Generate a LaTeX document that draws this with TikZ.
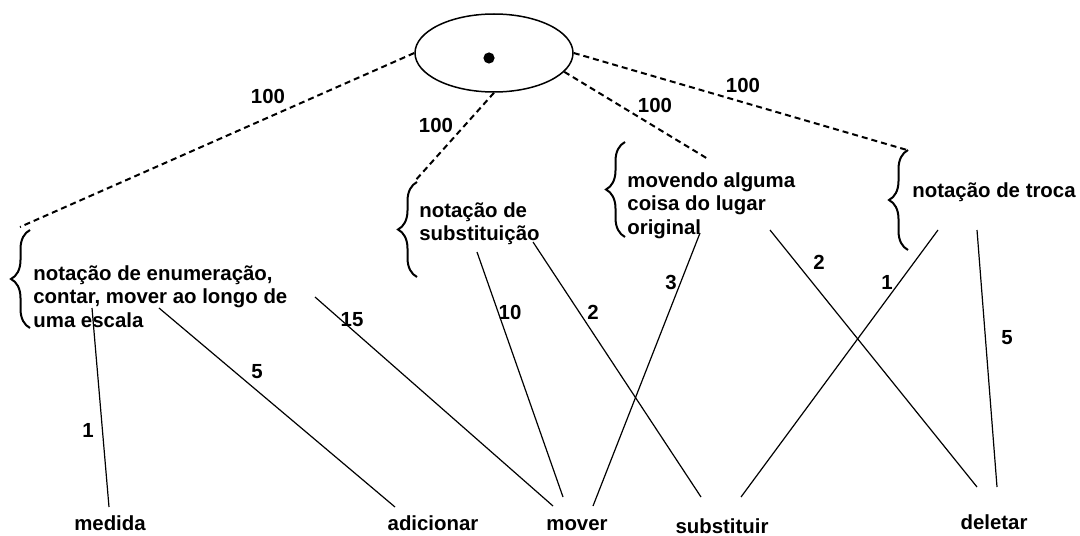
\documentclass[tikz,border=0pt]{standalone}
\usepackage{fontspec}
\setmainfont{Liberation Sans}
\usetikzlibrary{shapes.geometric,decorations.pathreplacing}
\begin{document}
\begin{tikzpicture}[x=0.5pt, y=-0.5pt,
	every node/.style = {inner sep=0pt, font=\fontsize{10.2}{11.75}\selectfont\bfseries},
	bloco/.style = {align=left, anchor=north west},
	rotulo/.style = {anchor=base},
	chave/.style = {decorate, decoration={brace, amplitude=9.5pt}, line width=1pt},
	tracejado/.style = {line width=1pt, dash pattern=on 3pt off 2pt},
	ligacao/.style = {line width=0.6pt}]
	\useasboundingbox (0,0) rectangle (1080,535);
	\node[draw, ellipse, line width=0.75pt, minimum width=79pt, minimum height=39pt] (raiz) at (494,53) {};
	\fill (489,58) circle (2.8pt);
	\node[bloco] (enum) at (33,265) {nota\c{c}\~ao de enumera\c{c}\~ao,\\contar, mover ao longo de\\uma escala};
	\node[bloco] (subst) at (419,202) {nota\c{c}\~ao de\\substitui\c{c}\~ao};
	\node[bloco] (movendo) at (627,172) {movendo alguma\\coisa do lugar\\original};
	\node[bloco] (troca) at (912,182) {nota\c{c}\~ao de troca};
	\draw[chave] (30,328) -- (30,230);
	\draw[chave] (417,277) -- (417,182);
	\draw[chave] (625,237) -- (625,142);
	\draw[chave] (908,250) -- (908,150);
	\node[rotulo] (medida) at (110,530) {medida};
	\node[rotulo] (adicionar) at (433,530) {adicionar};
	\node[rotulo] (mover) at (577,530) {mover};
	\node[rotulo] (substituir) at (722,533) {substituir};
	\node[rotulo] (deletar) at (994,529) {deletar};
	\coordinate (t1) at (20,227);
	\coordinate (t2) at (414,182);
	\coordinate (t3) at (708,159);
	\coordinate (t4) at (907,150);
	\draw[tracejado] (raiz.west) -- (t1);
	\draw[tracejado] (raiz.south) -- (t2);
	\draw[tracejado] (raiz.-15) -- (t3);
	\draw[tracejado] (raiz.east) -- (t4);
	\node at (268,96) {100};
	\node at (436,125) {100};
	\node at (655,105) {100};
	\node at (743,85) {100};
	\coordinate (e1) at (92,308);
	\coordinate (e2) at (159,308);
	\coordinate (e3) at (315,297);
	\coordinate (s1) at (477,252);
	\coordinate (s2) at (533,242);
	\coordinate (m1) at (700,233);
	\coordinate (m2) at (770,230);
	\coordinate (r1) at (938,230);
	\coordinate (r2) at (977,230);
	\coordinate (medida-in) at (109,507);
	\coordinate (adicionar-in) at (395,507);
	\coordinate (mover-a) at (553,506);
	\coordinate (mover-b) at (563,497);
	\coordinate (mover-c) at (593,506);
	\coordinate (substituir-a) at (701,497);
	\coordinate (substituir-b) at (741,497);
	\coordinate (deletar-a) at (977,487);
	\coordinate (deletar-b) at (997,487);
	\draw[ligacao] (e1) -- (medida-in);
	\draw[ligacao] (e2) -- (adicionar-in);
	\draw[ligacao] (e3) -- (mover-a);
	\draw[ligacao] (s1) -- (mover-b);
	\draw[ligacao] (s2) -- (substituir-a);
	\draw[ligacao] (m1) -- (mover-c);
	\draw[ligacao] (m2) -- (deletar-a);
	\draw[ligacao] (r1) -- (substituir-b);
	\draw[ligacao] (r2) -- (deletar-b);
	\node at (88,430) {1};
	\node at (257,372) {5};
	\node at (352,320) {15};
	\node at (510,312) {10};
	\node at (593,312) {2};
	\node at (671,282) {3};
	\node at (819,262) {2};
	\node at (887,282) {1};
	\node at (1007,338) {5};
\end{tikzpicture}
\end{document}
